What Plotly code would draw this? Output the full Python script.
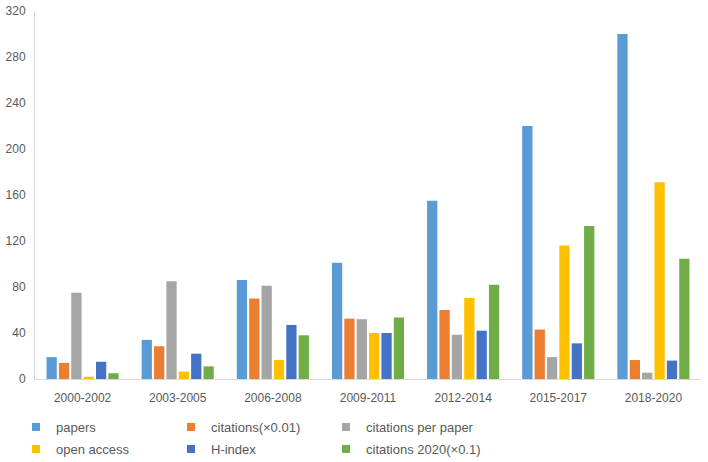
import plotly.graph_objects as go

categories = ["2000-2002", "2003-2005", "2006-2008", "2009-2011", "2012-2014", "2015-2017", "2018-2020"]
papers = [19, 34, 86, 101, 155, 220, 300]
citations = [14, 28.5, 70, 52.5, 60, 43, 16.5]
citations_per_paper = [75, 85, 81, 52, 38.5, 19, 5.5]
open_access = [2, 6.5, 16.5, 40, 70.5, 116, 171]
h_index = [15, 22, 47, 40, 42, 31, 16]
citations_2020 = [5, 11, 38, 53.5, 82, 133, 104.5]

series = [
    ("papers", papers, "#5B9BD5"),
    ("citations(×0.01)", citations, "#ED7D31"),
    ("citations per paper", citations_per_paper, "#A5A5A5"),
    ("open access", open_access, "#FFC000"),
    ("H-index", h_index, "#4472C4"),
    ("citations 2020(×0.1)", citations_2020, "#70AD47"),
]

fig = go.Figure()
for name, vals, color in series:
    fig.add_trace(go.Bar(x=categories, y=vals, name=name, marker_color=color,
                         marker_line_width=0, showlegend=False, legendgroup=name))
# legend entries with small square swatches, two rows of three
for i, (name, vals, color) in enumerate(series):
    fig.add_trace(go.Scatter(x=[None], y=[None], mode="markers", name=name,
                             legendgroup=name, legend="legend" if i < 3 else "legend2",
                             marker=dict(symbol="square", size=8, color=color)))

font = dict(family="Liberation Sans, Arial, sans-serif", size=12, color="#595959")
legfont = dict(family="Liberation Sans, Arial, sans-serif", size=13, color="#595959")
W, H = 708, 462
common_leg = dict(orientation="h", xref="container", yref="container",
                  x=16 / W, xanchor="left", yanchor="middle",
                  entrywidth=110, entrywidthmode="pixels", itemwidth=30,
                  font=legfont, tracegroupgap=0, bgcolor="rgba(0,0,0,0)")
fig.update_layout(
    width=W, height=H,
    margin=dict(l=35, r=7, t=11, b=83, autoexpand=False),
    paper_bgcolor="white", plot_bgcolor="white",
    barmode="group", bargap=0.22, bargroupgap=0.17,
    font=font,
    showlegend=True,
    legend=dict(common_leg, y=1 - 427 / H),
    legend2=dict(common_leg, y=1 - 449 / H),
    xaxis=dict(showgrid=False, showline=True, linecolor="#D9D9D9", linewidth=1,
               ticks="", tickfont=font, automargin=False, ticklabelstandoff=8),
    yaxis=dict(range=[0, 320], tickvals=list(range(0, 321, 40)), showgrid=False,
               showline=True, linecolor="#D9D9D9", linewidth=1, ticks="",
               zeroline=False, tickfont=font, automargin=False, ticklabelstandoff=6),
)
fig.write_html("out.html", config={"displayModeBar": False},
               post_script="document.body.style.margin='0';document.body.style.overflow='hidden';")
